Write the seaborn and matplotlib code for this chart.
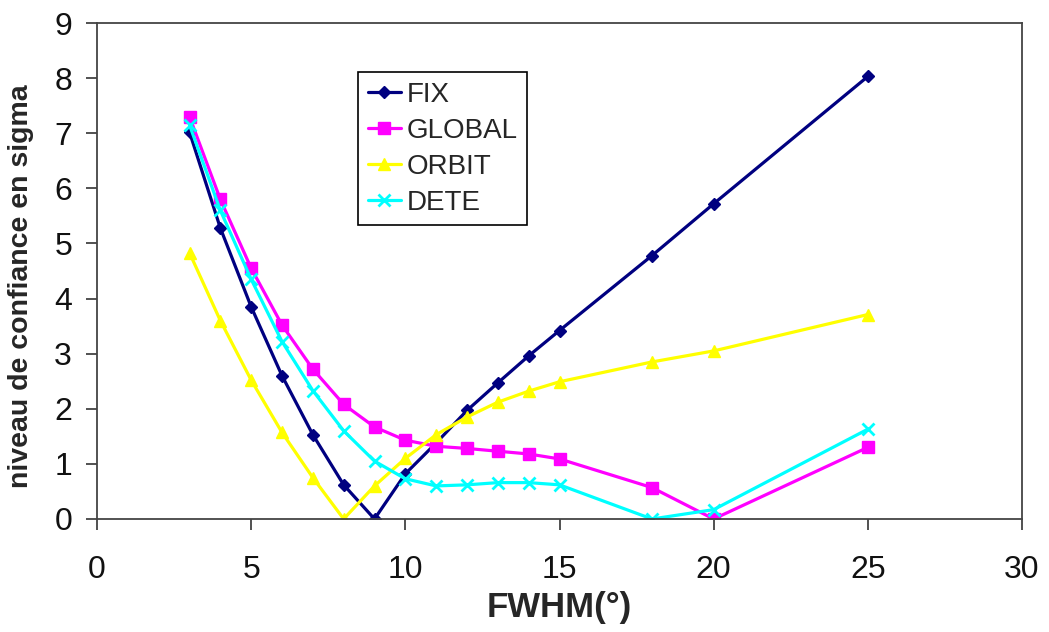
import matplotlib
matplotlib.use("Agg")
import matplotlib.pyplot as plt
import seaborn as sns
import pandas as pd

fwhm = [3, 4, 5, 6, 7, 8, 9, 10, 11, 12, 13, 14, 15, 18, 20, 25]
fix = [7.02, 5.28, 3.85, 2.60, 1.53, 0.62, 0.00, 0.82, 1.38, 1.97, 2.47, 2.96, 3.42, 4.78, 5.72, 8.03]
global_ = [7.30, 5.80, 4.55, 3.52, 2.72, 2.08, 1.67, 1.43, 1.32, 1.28, 1.23, 1.18, 1.09, 0.57, 0.00, 1.30]
orbit = [4.83, 3.60, 2.52, 1.57, 0.75, 0.00, 0.60, 1.10, 1.53, 1.85, 2.12, 2.32, 2.49, 2.85, 3.05, 3.71]
dete = [7.15, 5.60, 4.35, 3.22, 2.33, 1.60, 1.05, 0.73, 0.60, 0.62, 0.66, 0.66, 0.62, 0.00, 0.17, 1.63]

series_names = ["FIX", "GLOBAL", "ORBIT", "DETE"]
series_values = [fix, global_, orbit, dete]
colors = ["#000080", "#FF00FF", "#FFFF00", "#00FFFF"]
markers = ["D", "s", "^", "x"]
msizes = [6, 8, 8, 9]

x_ticks = [0, 5, 10, 15, 20, 25, 30]
y_ticks = [0, 1, 2, 3, 4, 5, 6, 7, 8, 9]

sns.set_theme(style="white")
plt.rcParams['font.family'] = ['Liberation Sans', 'DejaVu Sans']

fig = plt.figure(figsize=(10.49, 6.32), dpi=100)
ax = fig.add_axes([97/1049, 1 - 519/632, (1022 - 97)/1049, (519 - 23)/632])

for name, vals, c, m, ms in zip(series_names, series_values, colors, markers, msizes):
    df = pd.DataFrame({"x": fwhm, "y": vals})
    sns.lineplot(data=df, x="x", y="y", ax=ax, color=c, linewidth=2.3,
                 marker=m, markersize=ms, markeredgecolor=c,
                 markeredgewidth=2 if m == "x" else 1, label=name)

ax.set_xlim(0, 30)
ax.set_ylim(0, 9)
ax.set_xticks(x_ticks)
ax.set_yticks(y_ticks)
ax.tick_params(axis="both", which="major", labelsize=23, direction="out",
               length=8, width=1.2, color="#333333", labelcolor="#111111",
               bottom=True, left=True)
ax.tick_params(axis="x", pad=18)
ax.tick_params(axis="y", pad=10)
for s in ax.spines.values():
    s.set_color("#444444")
    s.set_linewidth(1.3)

ax.set_xlabel("FWHM(°)", fontsize=25, fontweight="bold")
ax.xaxis.set_label_coords(0.5, -0.145)
ax.set_ylabel("niveau de confiance en sigma", fontsize=20.5, fontweight="bold")
ax.yaxis.set_label_coords(-0.068, 0.47)

leg = ax.legend(loc="upper left", bbox_to_anchor=((358 - 97)/925, (519 - 72)/496),
                fontsize=20, frameon=True, fancybox=False, framealpha=1,
                edgecolor="black", handlelength=1.2, handletextpad=0.2,
                borderpad=0.35, labelspacing=0.36, borderaxespad=0)
leg.get_frame().set_linewidth(1.2)

fig.savefig("out.png", dpi=100)
